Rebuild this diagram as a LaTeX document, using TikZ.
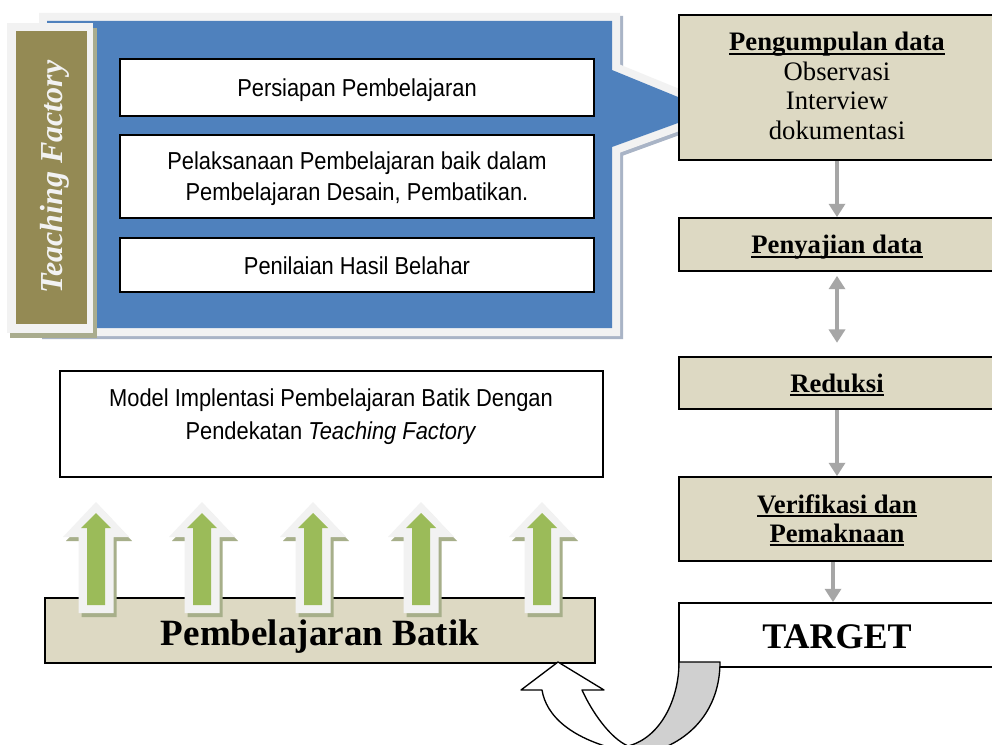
\documentclass[tikz,border=0pt]{standalone}
\usepackage{fontspec}
\setmainfont{Liberation Serif}
\newfontfamily\arialf{Liberation Sans}
\usetikzlibrary{arrows.meta,fit}
\definecolor{cTan}{HTML}{DDD9C3}
\definecolor{cOlive}{HTML}{948A54}
\definecolor{cBlue}{HTML}{4F81BD}
\definecolor{cFrame}{HTML}{F2F2F2}
\definecolor{cGreen}{HTML}{9BBB59}
\definecolor{cGrey}{HTML}{A6A6A6}
\definecolor{cBand}{HTML}{D0D0D0}
\definecolor{cCShadow}{HTML}{A9B4C6}
\definecolor{cAShadow}{HTML}{A7AF8A}
\definecolor{cSShadow}{HTML}{A9AC8E}
\newcommand\myul[1]{\setbox0\hbox{#1}\leavevmode\rlap{\rule[-3pt]{\wd0}{1.4pt}}\box0}
\newcommand\vst[1]{\scalebox{1}[1.12]{#1}}
% up arrow polygon: cx, tip y, head base y, head half width, shaft half width, bottom y, style
\newcommand\arrpoly[7]{\fill[#7] ({#1},#2) -- ({#1+#4},#3) -- ({#1+#5},#3) -- ({#1+#5},#6) -- ({#1-#5},#6) -- ({#1-#5},#3) -- ({#1-#4},#3) -- cycle;}
\newcommand\greenarrow[1]{%
  \arrpoly{#1+3}{506}{541}{33}{17.5}{617}{cAShadow}
  \arrpoly{#1}{502}{537}{33}{17.5}{613}{cFrame}
  \arrpoly{#1}{513}{528}{15}{9}{605}{cGreen}}
\begin{document}
\begin{tikzpicture}[x=0.75pt,y=-0.75pt,
  tbox/.style={draw=black, line width=1.3pt, fill=cTan, inner sep=0pt},
  wbox/.style={draw=black, line width=1.3pt, fill=white, inner sep=0pt},
  atext/.style={font=\arialf\fontsize{16.4}{19}\selectfont, anchor=base, inner sep=0pt},
  ttext/.style={font=\fontsize{20}{24}\selectfont, anchor=base, inner sep=0pt},
  btext/.style={font=\fontsize{20}{24}\selectfont\bfseries, anchor=base, inner sep=0pt},
  garrow/.style={draw=cGrey, line width=3pt, -{Triangle[length=10pt,width=12pt]}},
  gdarrow/.style={draw=cGrey, line width=3pt, {Triangle[length=10pt,width=12pt]}-{Triangle[length=10pt,width=12pt]}},
  curvedline/.style={draw=black, line width=1pt, line join=round}]
\useasboundingbox (0,0) rectangle (992,745);
\clip (0,0) rectangle (992,745);
\fill[white] (0,0) rectangle (992,745);

% ---- callout (shadow, frame, blue) ----
\draw[cCShadow, fill=cCShadow, line width=12pt] (50,24) -- (615,24) -- (615,73) -- (703,109) -- (703,118) -- (615,150) -- (615,331) -- (50,331) -- cycle;
\draw[cFrame, fill=cFrame, line width=12pt] (47,21) -- (612,21) -- (612,70) -- (700,106) -- (700,115) -- (612,147) -- (612,328) -- (47,328) -- cycle;
\fill[cBlue] (47,21) -- (612,21) -- (612,70) -- (700,106) -- (700,115) -- (612,147) -- (612,328) -- (47,328) -- cycle;

% ---- sidebar ----
\fill[cSShadow] (10,28) rectangle (97,338);
\fill[cFrame] (7,23) rectangle (93,333);
\fill[cOlive] (16,31) rectangle (87,324);
\node[rotate=90, text=cFrame, inner sep=0pt, font=\fontsize{24}{28}\selectfont\bfseries\itshape] (tf) at (55,177) {Teaching Factory};

% ---- inner white boxes ----
\node[wbox, fit={(120,59)(594,116)}] (p1) {};
\node[atext] (p1t) at (357,97) {\vst{Persiapan Pembelajaran}};
\node[wbox, fit={(120,135)(594,218)}] (p2) {};
\node[atext] (p2a) at (357,170) {\vst{Pelaksanaan Pembelajaran baik dalam}};
\node[atext] (p2b) at (357,201) {\vst{Pembelajaran Desain, Pembatikan.}};
\node[wbox, fit={(120,238)(594,292)}] (p3) {};
\node[atext] (p3t) at (357,275) {\vst{Penilaian Hasil Belahar}};

% ---- model box ----
\node[wbox, fit={(60,371)(603,477)}] (model) {};
\node[atext] (m1) at (331,406) {\vst{Model Implentasi Pembelajaran Batik Dengan}};
\node[atext] (m2) at (331,439) {\vst{Pendekatan \textit{Teaching Factory}}};

% ---- right column ----
\node[tbox, fit={(679,15)(995,160)}] (peng) {};
\node[btext] (pg1) at (837,51) {\myul{Pengumpulan data}};
\node[ttext] (pg2) at (837,81) {Observasi};
\node[ttext] (pg3) at (837,110) {Interview};
\node[ttext] (pg4) at (837,140) {dokumentasi};
\node[tbox, fit={(679,218)(995,271)}] (peny) {};
\node[btext] (pyt) at (837,254) {\myul{Penyajian data}};
\node[tbox, fit={(679,357)(995,409)}] (red) {};
\node[btext] (rdt) at (837,392) {\myul{Reduksi}};
\node[tbox, fit={(679,477)(995,561)}] (ver) {};
\node[btext] (vr1) at (837,513) {\myul{Verifikasi dan}};
\node[btext] (vr2) at (837,542) {\myul{Pemaknaan}};
\node[wbox, fit={(679,603)(995,667)}] (tgt) {};
\node[font=\fontsize{27}{32}\selectfont\bfseries, anchor=base, inner sep=0pt] (tgtt) at (837,648) {TARGET};

\draw[garrow] (peng) -- (peny);
\draw[gdarrow, shorten <=3pt, shorten >=10pt] (peny) -- (red);
\draw[garrow] (red) -- (ver);
\draw[garrow] ([xshift=-3pt]ver.south) -- ([xshift=-3pt]tgt.north);

% ---- batik box and arrows ----
\node[tbox, fit={(45,598)(595,663)}] (batik) {};
\node[font=\fontsize{27.8}{32}\selectfont\bfseries, anchor=base, inner sep=0pt] (batikt) at (320,645) {Pembelajaran Batik};
\greenarrow{96}
\greenarrow{202}
\greenarrow{313}
\greenarrow{421}
\greenarrow{542}

% ---- curved U-turn arrow ----
\draw[curvedline, fill=cBand] (679,662) -- (720,662) .. controls (720,710) and (690,745) .. (640,755) -- (628,746) .. controls (660,738) and (679,700) .. (679,662) -- cycle;
\draw[curvedline, fill=white] (558,662) -- (604,690) -- (582,690) .. controls (592,712) and (610,738) .. (628,746) -- (628,752) .. controls (570,740) and (546,715) .. (542,690) -- (521,690) -- cycle;
\end{tikzpicture}
\end{document}
